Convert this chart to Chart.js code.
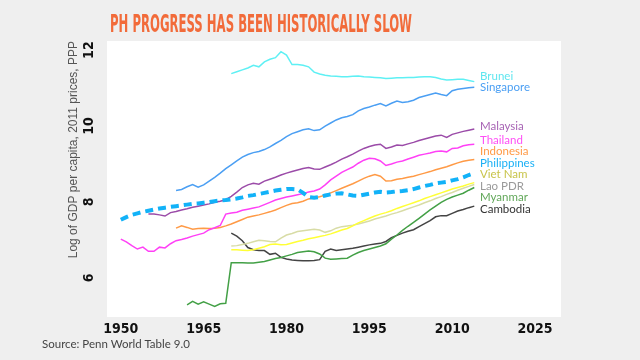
<!DOCTYPE html>
<html>
<head>
<meta charset="utf-8">
<script src="https://cdn.jsdelivr.net/npm/chart.js@4.4.1/dist/chart.umd.min.js"></script>
<style>
  html, body { margin: 0; padding: 0; background: #efefef; }
  #wrap { position: relative; width: 640px; height: 360px; }
  #title {
    position: absolute; left: 110px; top: 11px;
    font: bold 25px 'Liberation Sans Narrow', 'DejaVu Sans Condensed', sans-serif;
    line-height: 25px; color: #f26b3a; white-space: nowrap; transform-origin: 0 0;
  }
  #source {
    position: absolute; left: 42px; top: 338px;
    font: 11.5px Lato, sans-serif; line-height: 11px; color: #444;
  }
</style>
</head>
<body>
<div id="wrap">
  <canvas id="gdpChart" width="640" height="360" style="width:640px;height:360px"></canvas>
  <div id="title">PH PROGRESS HAS BEEN HISTORICALLY SLOW</div>
  <div id="source">Source: Penn World Table 9.0</div>
</div>
<script>
// log GDP per capita
const countries = ['Brunei', 'Singapore', 'Malaysia', 'Thailand', 'Indonesia', 'Philippines', 'Viet Nam', 'Lao PDR', 'Myanmar', 'Cambodia'];
const firstYears = [1970, 1960, 1955, 1950, 1960, 1950, 1970, 1970, 1962, 1970];

const brunei = [11.38, 11.43, 11.48, 11.53, 11.60, 11.56, 11.69, 11.76, 11.80, 11.96,
  11.87, 11.62, 11.62, 11.60, 11.56, 11.42, 11.37, 11.34, 11.32, 11.31,
  11.30, 11.30, 11.31, 11.32, 11.30, 11.29, 11.28, 11.27, 11.25, 11.26,
  11.27, 11.27, 11.28, 11.28, 11.29, 11.30, 11.30, 11.28, 11.24, 11.21,
  11.22, 11.23, 11.23, 11.20, 11.17];
const singapore = [8.30, 8.33, 8.40, 8.46, 8.39, 8.45, 8.55, 8.65, 8.76, 8.88,
  8.98, 9.08, 9.18, 9.25, 9.30, 9.33, 9.38, 9.45, 9.54, 9.62,
  9.72, 9.80, 9.85, 9.90, 9.93, 9.88, 9.90, 10.00, 10.08, 10.16,
  10.22, 10.25, 10.30, 10.40, 10.46, 10.50, 10.55, 10.59, 10.53, 10.60,
  10.66, 10.62, 10.64, 10.68, 10.75, 10.79, 10.83, 10.87, 10.83, 10.80,
  10.93, 10.97, 10.99, 11.01, 11.02];
const malaysia = [7.68, 7.68, 7.66, 7.63, 7.72,
  7.75, 7.79, 7.82, 7.86, 7.89, 7.92, 7.95, 7.99, 8.02, 8.06,
  8.15, 8.26, 8.38, 8.45, 8.49, 8.47, 8.55, 8.60, 8.65, 8.71,
  8.76, 8.80, 8.84, 8.88, 8.91, 8.87, 8.86, 8.92, 8.98, 9.05,
  9.13, 9.19, 9.26, 9.34, 9.41, 9.46, 9.50, 9.52, 9.41, 9.45,
  9.50, 9.49, 9.53, 9.57, 9.62, 9.66, 9.70, 9.74, 9.76, 9.70,
  9.78, 9.82, 9.86, 9.89, 9.92];
const thailand = [7.02, 6.95, 6.85, 6.76, 6.81, 6.70, 6.70, 6.81, 6.79, 6.90,
  6.98, 7.01, 7.05, 7.10, 7.14, 7.18, 7.27, 7.32, 7.38, 7.68,
  7.71, 7.73, 7.78, 7.81, 7.84, 7.87, 7.93, 7.99, 8.05, 8.09,
  8.13, 8.16, 8.19, 8.22, 8.26, 8.29, 8.34, 8.45, 8.58, 8.68,
  8.78, 8.85, 8.92, 9.02, 9.10, 9.15, 9.14, 9.08, 8.96, 9.00,
  9.05, 9.08, 9.13, 9.18, 9.23, 9.26, 9.29, 9.33, 9.34, 9.32,
  9.41, 9.42, 9.48, 9.51, 9.52];
const indonesia = [7.31, 7.37, 7.33, 7.28, 7.30, 7.31, 7.30, 7.31, 7.33, 7.37,
  7.42, 7.48, 7.54, 7.60, 7.63, 7.66, 7.70, 7.74, 7.79, 7.85,
  7.91, 7.96, 7.98, 8.02, 8.08, 8.11, 8.14, 8.18, 8.24, 8.30,
  8.36, 8.42, 8.48, 8.55, 8.62, 8.68, 8.72, 8.68, 8.55, 8.56,
  8.60, 8.62, 8.65, 8.68, 8.72, 8.76, 8.80, 8.85, 8.89, 8.93,
  8.98, 9.03, 9.07, 9.10, 9.12];
const philippines = [7.53, 7.60, 7.66, 7.70, 7.74, 7.77, 7.80, 7.83, 7.85, 7.87,
  7.89, 7.91, 7.93, 7.95, 7.96, 7.98, 8.00, 8.02, 8.04, 8.05,
  8.07, 8.09, 8.12, 8.16, 8.18, 8.21, 8.24, 8.27, 8.30, 8.32,
  8.34, 8.34, 8.33, 8.24, 8.13, 8.11, 8.13, 8.17, 8.20, 8.22,
  8.23, 8.20, 8.17, 8.16, 8.19, 8.22, 8.25, 8.27, 8.25, 8.26,
  8.28, 8.29, 8.31, 8.34, 8.38, 8.42, 8.45, 8.49, 8.51, 8.53,
  8.57, 8.60, 8.65, 8.71, 8.76];
const vietNam = [6.74, 6.74, 6.73, 6.72, 6.74, 6.78, 6.82, 6.88, 6.89, 6.87,
  6.88, 6.92, 6.96, 6.99, 7.03, 7.06, 7.09, 7.12, 7.16, 7.21,
  7.26, 7.30, 7.37, 7.45, 7.51, 7.57, 7.63, 7.68, 7.72, 7.77,
  7.83, 7.88, 7.93, 7.98, 8.03, 8.09, 8.14, 8.19, 8.24, 8.29,
  8.34, 8.38, 8.42, 8.47, 8.51];
const laoPdr = [6.84, 6.85, 6.88, 6.91, 6.95, 6.99, 6.98, 6.96, 6.95, 7.05,
  7.13, 7.17, 7.22, 7.24, 7.26, 7.28, 7.26, 7.20, 7.24, 7.31,
  7.35, 7.37, 7.39, 7.42, 7.46, 7.50, 7.55, 7.59, 7.63, 7.68,
  7.72, 7.77, 7.82, 7.87, 7.92, 7.98, 8.03, 8.09, 8.14, 8.20,
  8.25, 8.31, 8.36, 8.41, 8.46];
const myanmar = [5.29, 5.38, 5.31, 5.37, 5.31, 5.25, 5.32, 5.33,
  6.40, 6.40, 6.40, 6.39, 6.39, 6.41, 6.43, 6.47, 6.51, 6.54,
  6.58, 6.62, 6.67, 6.69, 6.71, 6.69, 6.63, 6.52, 6.49, 6.50,
  6.51, 6.52, 6.60, 6.67, 6.72, 6.76, 6.80, 6.84, 6.90, 7.02,
  7.13, 7.25, 7.36, 7.46, 7.57, 7.68, 7.79, 7.89, 7.99, 8.07,
  8.13, 8.18, 8.23, 8.31, 8.38];
const cambodia = [7.18, 7.10, 6.98, 6.80, 6.74, 6.72, 6.72, 6.62, 6.65, 6.54,
  6.50, 6.47, 6.46, 6.45, 6.45, 6.46, 6.48, 6.70, 6.76, 6.72,
  6.74, 6.76, 6.78, 6.81, 6.84, 6.87, 6.89, 6.91, 6.96, 7.06,
  7.12, 7.18, 7.23, 7.27, 7.35, 7.43, 7.51, 7.61, 7.64, 7.64,
  7.70, 7.76, 7.80, 7.85, 7.89];

const seriesValues = [brunei, singapore, malaysia, thailand, indonesia, philippines, vietNam, laoPdr, myanmar, cambodia];
const xTicks = [1950, 1965, 1980, 1995, 2010, 2025];
const yTicks = [6, 8, 10, 12];

const lineColors = ['#5ef0f4', '#4b9ff3', '#9b4ba8', '#ff40f6', '#ff9a46', '#12b2f8', '#ffff36', '#d8dca6', '#43a046', '#444444'];
const labelColors = ['#5fe6ef', '#4b9ff3', '#a865b5', '#ff4ff6', '#ff9a46', '#1ab0f5', '#c8c44a', '#9a9a9a', '#62a85a', '#333333'];

const narrowFont = "'Liberation Sans Narrow', 'DejaVu Sans Condensed', sans-serif";

// squeeze the title to the width of the original
const titleEl = document.getElementById('title');
titleEl.style.transform = 'scaleX(' + (302 / titleEl.offsetWidth) + ')';

const datasets = countries.map((name, i) => ({
    label: name,
    data: seriesValues[i].map((v, k) => ({ x: firstYears[i] + k, y: v })),
    borderColor: lineColors[i],
    borderWidth: name === 'Philippines' ? 4 : 1.5,
    borderDash: name === 'Philippines' ? [8, 5] : [],
    pointRadius: 0,
    tension: 0,
    order: name === 'Philippines' ? 0 : 1
}));

// white panel behind the lines
const plotBackground = {
    id: 'plotBackground',
    beforeDraw(chart) {
        const { ctx, chartArea: a } = chart;
        ctx.save();
        ctx.fillStyle = '#ffffff';
        ctx.fillRect(a.left, a.top, a.right - a.left, a.bottom - a.top);
        ctx.restore();
    }
};

// country names at the end of each line, pushed apart so they don't overlap
const endLabels = {
    id: 'endLabels',
    afterDatasetsDraw(chart) {
        const { ctx, scales: { y } } = chart;
        const items = countries.map((name, i) => {
            const vals = seriesValues[i];
            return { name, color: labelColors[i], y: y.getPixelForValue(vals[vals.length - 1]) };
        }).sort((a, b) => a.y - b.y);
        const gap = 11.5;
        for (let pass = 0; pass < 100; pass++) {
            for (let i = 1; i < items.length; i++) {
                const d = items[i].y - items[i - 1].y;
                if (d < gap) {
                    const push = (gap - d) / 2;
                    items[i - 1].y -= push;
                    items[i].y += push;
                }
            }
        }
        ctx.save();
        ctx.font = "11.5px Lato, sans-serif";
        ctx.textBaseline = 'middle';
        ctx.textAlign = 'left';
        items.forEach(it => {
            ctx.fillStyle = it.color;
            ctx.fillText(it.name, chart.chartArea.right - 81, it.y - 2.5);
        });
        ctx.restore();
    }
};

new Chart(document.getElementById('gdpChart'), {
    type: 'line',
    data: { datasets: datasets },
    options: {
        responsive: false,
        animation: false,
        layout: { padding: { left: 0, top: 41, right: 79, bottom: 0 } },
        plugins: {
            legend: { display: false },
            tooltip: { enabled: false }
        },
        scales: {
            x: {
                type: 'linear',
                min: 1947.5,
                max: 2029.7,
                grid: { display: false, drawTicks: false },
                border: { display: false },
                afterBuildTicks: s => { s.ticks = xTicks.map(v => ({ value: v })); },
                afterFit: s => { s.height = 43; },
                ticks: {
                    color: '#111111',
                    padding: 4,
                    font: { family: narrowFont, size: 14, weight: 'bold' },
                    callback: v => String(v)
                }
            },
            y: {
                type: 'linear',
                min: 4.97,
                max: 12.24,
                grid: { display: false, drawTicks: false },
                border: { display: false },
                afterBuildTicks: s => { s.ticks = yTicks.map(v => ({ value: v })); },
                afterFit: s => { s.width = 107; },
                ticks: {
                    color: '#111111',
                    padding: 9,
                    minRotation: 90,
                    maxRotation: 90,
                    crossAlign: 'center',
                    font: { family: narrowFont, size: 14, weight: 'bold' },
                    callback: v => String(v)
                },
                title: {
                    display: true,
                    text: 'Log of GDP per capita, 2011 prices, PPP',
                    align: 'end',
                    color: '#555555',
                    font: { family: "'Liberation Sans', Arial, sans-serif", size: 12 },
                    padding: { top: 66, bottom: 0 }
                }
            }
        }
    },
    plugins: [plotBackground, endLabels]
});
</script>
</body>
</html>
